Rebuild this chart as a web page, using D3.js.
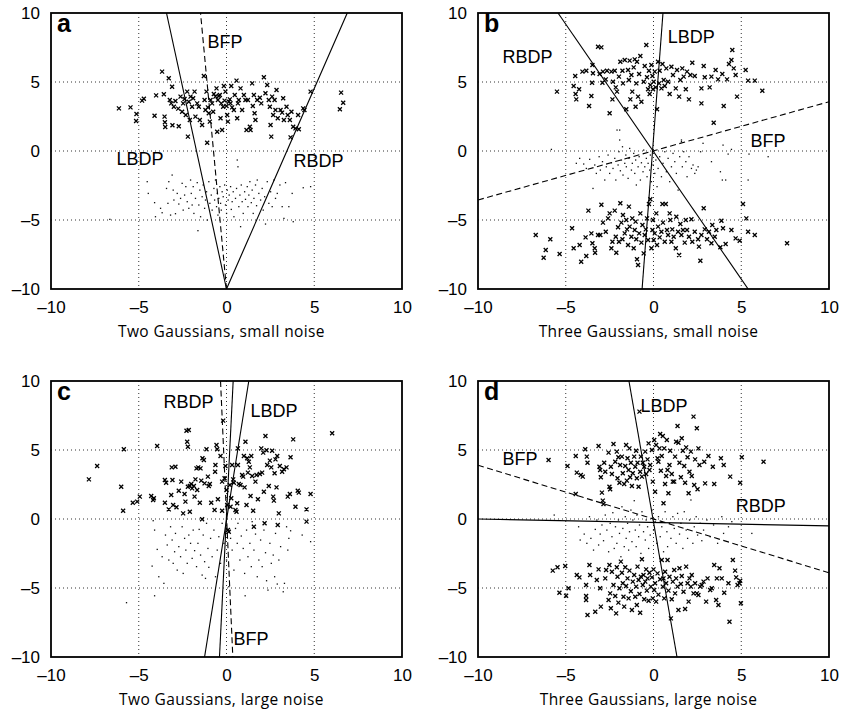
<!DOCTYPE html>
<html>
<head>
<meta charset="utf-8">
<script src="https://cdn.jsdelivr.net/npm/d3@7"></script>
<style>
  body { margin: 0; background: #fff; }
  svg { display: block; }
  .tick text { font-family: "Liberation Sans", Arial, sans-serif; font-size: 17px; fill: #000; }
  .xlabel { font-family: "Open Sans", Lato, sans-serif; font-size: 15.5px; letter-spacing: 0.4px; }
  .ann { font-family: "Liberation Sans", Arial, sans-serif; font-size: 18px; }
  .plabel { font-family: "Liberation Sans", Arial, sans-serif; font-size: 25px; font-weight: bold; }
</style>
</head>
<body>
<svg width="863" height="713"></svg>
<script>
const ticks = [-10, -5, 0, 5, 10];
const panelLetters = ["a", "b", "c", "d"];
const panelTitles = ["Two Gaussians, small noise", "Three Gaussians, small noise",
                     "Two Gaussians, large noise", "Three Gaussians, large noise"];

// panel a
const aCross = [[-6.13,3.09],[-5.47,3.16],[-5.13,2.68],[-5.15,2.17],[-4.81,3.65],[-4.71,3.79],[-4.10,2.56],[-4.01,4.03],[-3.67,5.75],[-3.57,4.11],[-3.53,2.49],[-3.51,2.08],[-3.49,1.74],[-3.29,5.27],[-3.23,3.70],[-3.10,4.66],[-3.15,3.45],[-3.08,1.86],[-2.91,3.62],[-3.00,3.21],[-2.75,3.07],[-2.72,1.79],[-2.62,3.94],[-2.53,2.85],[-2.47,3.45],[-2.39,3.77],[-2.32,2.61],[-2.24,4.30],[-2.20,1.04],[-2.15,3.57],[-2.09,2.25],[-2.05,3.94],[-1.96,3.21],[-1.90,3.82],[-1.82,4.30],[-1.77,2.49],[-1.67,3.45],[-1.58,3.21],[-1.52,2.25],[-1.39,1.88],[-1.29,5.43],[-1.25,3.70],[-1.20,2.97],[-1.14,4.30],[-1.10,0.60],[-1.06,3.16],[-1.01,2.73],[-0.95,2.13],[-0.91,3.70],[-0.82,3.45],[-0.76,2.85],[-0.72,4.13],[-0.63,3.94],[-0.57,4.54],[-0.53,1.40],[-0.49,3.70],[-0.44,3.99],[-0.38,4.06],[-0.34,2.37],[-0.30,3.45],[-0.25,1.52],[-0.19,3.21],[-0.15,4.71],[-0.11,3.65],[-0.06,4.30],[0,3.26],[0.04,2.61],[0.08,2.13],[0.13,3.57],[0.19,3.74],[0.23,3.45],[0.27,4.71],[0.32,3.16],[0.42,2.97],[0.47,4.06],[0.57,5.10],[0.61,2.37],[0.65,3.45],[0.70,3.70],[0.80,4.54],[0.89,2.97],[0.99,4.06],[1.08,3.70],[1.14,1.52],[1.22,3.70],[1.33,1.76],[1.37,1.52],[1.46,4.90],[1.50,3.26],[1.56,4.06],[1.60,2.73],[1.65,2.25],[1.75,3.70],[1.90,3.86],[1.98,3.45],[2.13,5.34],[2.22,4.18],[2.32,4.78],[2.41,3.70],[2.47,3.21],[2.51,1.88],[2.55,1.04],[2.60,3.94],[2.66,2.61],[2.74,3.70],[2.79,2.97],[2.85,4.42],[2.92,2.37],[3.08,2.97],[3.17,2.78],[3.23,3.82],[3.27,2.25],[3.42,3.21],[3.49,2.61],[3.61,2.25],[3.65,0.99],[3.70,2.85],[3.80,1.76],[3.93,1.64],[4.08,2.61],[4.12,1.57],[4.37,3.09],[4.44,2.97],[4.79,4.30],[6.46,3.02],[6.53,4.23],[6.65,3.50]];
const aDot = [[-6.65,-4.95],[-4.52,-2.22],[-4.46,-3.07],[-4.10,-3.74],[-4.05,-4.76],[-3.76,-4.15],[-3.67,-4.47],[-3.42,-2.71],[-3.34,-3.79],[-3.29,-2.22],[-3.19,-4.64],[-3.10,-1.74],[-3.04,-2.83],[-3.00,-3.55],[-2.91,-4.54],[-2.81,-3.07],[-2.72,-3.84],[-2.62,-3.43],[-2.53,-2.34],[-2.47,-4.28],[-2.39,-3.19],[-2.32,-2.58],[-2.24,-3.67],[-2.15,-4.15],[-2.05,-2.10],[-2.01,-3.07],[-1.96,-3.91],[-1.90,-2.58],[-1.86,-4.52],[-1.77,-3.43],[-1.67,-2.29],[-1.63,-5.77],[-1.58,-3.91],[-1.52,-2.83],[-1.48,-4.76],[-1.39,-3.31],[-1.33,-2.46],[-1.25,-4.15],[-1.20,-3.55],[-1.14,-2.95],[-1.10,-5.00],[-1.01,-2.22],[-0.95,-3.79],[-0.87,-3.19],[-0.82,-4.28],[-0.72,-2.71],[-0.68,-3.55],[-0.63,-2.10],[-0.57,-4.03],[-0.53,-3.07],[-0.49,-4.64],[-0.44,-3.43],[-0.38,-2.58],[-0.34,-3.79],[-0.30,-4.28],[-0.25,-2.95],[-0.19,-3.31],[-0.11,-2.46],[-0.06,-3.91],[0,-4.52],[0.04,-2.83],[0.09,-3.55],[0.15,-3.19],[0.23,-2.58],[0.27,-4.23],[0.32,-3.67],[0.38,-2.95],[0.42,-4.76],[0.51,-3.43],[0.57,-2.71],[0.61,-0.65],[0.65,-1.14],[0.70,-4.03],[0.76,-3.19],[0.80,-5.48],[0.84,-2.46],[0.89,-3.67],[0.95,-4.52],[1.03,-2.95],[1.08,-3.50],[1.18,-2.58],[1.22,-4.03],[1.27,-3.19],[1.33,-2.22],[1.41,-3.74],[1.46,-2.83],[1.52,-4.52],[1.56,-3.43],[1.65,-2.46],[1.71,-3.96],[1.75,-2.10],[1.84,-3.07],[1.94,-3.55],[2.03,-2.71],[2.09,-4.28],[2.17,-3.31],[2.22,-5.29],[2.32,-2.22],[2.41,-3.79],[2.51,-2.95],[2.60,-4.03],[2.70,-2.10],[2.79,-3.43],[2.89,-3.07],[3.04,-2.46],[3.17,-4.03],[3.27,-4.88],[3.36,-2.29],[3.55,-4.03],[3.74,-3.07],[3.80,-5.12],[4.37,-2.66],[4.79,-2.58]];

// panel b
const bCrossTop = [[-5.50,4.30],[-4.46,5.43],[-4.44,4.13],[-4.55,4.71],[-4.40,3.74],[-4.24,4.47],[-4.05,5.75],[-3.83,5.82],[-3.67,3.26],[-3.54,3.99],[-3.48,6.23],[-3.45,5.63],[-3.50,4.95],[-3.16,7.56],[-3.07,5.58],[-2.97,7.51],[-2.91,4.95],[-2.88,5.75],[-2.72,5.19],[-2.65,5.82],[-2.50,2.73],[-2.40,5.75],[-2.34,3.74],[-2.31,5.02],[-2.21,5.82],[-2.15,4.61],[-2.08,4.30],[-1.97,5.39],[-1.89,6.47],[-1.77,5.82],[-1.74,4.90],[-1.64,6.59],[-1.55,3.02],[-1.45,5.87],[-1.40,5.14],[-1.36,6.55],[-1.32,3.74],[-1.26,5.51],[-1.21,4.30],[-1.13,6.06],[-1.07,6.64],[-1.02,3.21],[-0.98,4.90],[-0.94,6.47],[-0.88,3.94],[-0.82,5.58],[-0.75,6.88],[-0.69,3.57],[-0.56,5.02],[-0.50,6.16],[-0.41,7.68],[-0.37,5.34],[-0.31,4.47],[-0.26,5.82],[-0.22,4.13],[-0.18,4.78],[-0.12,6.23],[-0.06,5.43],[-0.03,4.47],[0.01,5.02],[0.07,5.75],[0.13,4.61],[0.20,3.02],[0.26,6.47],[0.32,4.90],[0.35,5.82],[0.45,4.54],[0.51,6.30],[0.58,5.14],[0.64,4.71],[0.73,5.99],[0.83,5.02],[0.92,4.13],[1.02,6.11],[1.11,5.51],[1.27,4.54],[1.34,5.87],[1.46,3.94],[1.53,5.14],[1.64,5.99],[1.72,5.39],[1.84,4.47],[1.91,5.75],[2.02,3.74],[2.10,5.51],[2.21,6.40],[2.35,5.43],[2.73,4.54],[2.73,3.45],[2.86,6.16],[2.92,5.34],[3.20,4.61],[3.30,5.39],[3.43,2.05],[3.54,5.87],[3.68,5.19],[3.92,5.58],[4.00,3.26],[4.19,5.19],[4.30,6.30],[4.44,6.59],[4.49,7.32],[4.57,5.99],[4.68,5.51],[4.76,3.94],[5.25,5.87],[5.39,5.10],[5.77,5.10],[6.20,4.37]];
const bDot = [[-5.82,0.12],[-4.40,-0.89],[-4.21,-0.53],[-3.98,-0.94],[-3.83,-1.26],[-3.64,-0.60],[-3.45,-2.71],[-3.35,-1.01],[-3.26,-1.62],[-3.10,-0.41],[-3.03,-1.38],[-2.91,-0.77],[-2.78,-2.10],[-2.69,-1.14],[-2.59,-0.29],[-2.50,-1.62],[-2.40,-0.85],[-2.31,-1.26],[-2.21,-0.53],[-2.15,-2.10],[-2.08,1.52],[-2.02,-1.01],[-1.97,-0.05],[-1.93,0.80],[-1.89,-1.43],[-1.83,-0.65],[-1.77,0.31],[-1.74,-1.74],[-1.64,-0.89],[-1.58,-0.29],[-1.55,-1.14],[-1.45,-1.98],[-1.40,-0.53],[-1.36,0.19],[-1.26,-1.38],[-1.21,-0.89],[-1.13,-0.17],[-1.07,-1.62],[-1.02,-0.65],[-0.98,-2.46],[-0.88,-1.14],[-0.82,-0.41],[-0.75,-2.10],[-0.69,-0.85],[-0.60,-1.50],[-0.56,0.07],[-0.50,-1.14],[-0.41,-0.53],[-0.37,-1.86],[-0.31,-0.89],[-0.22,-1.38],[-0.18,-0.29],[-0.12,-2.22],[-0.03,-1.01],[0.07,-1.62],[0.13,-0.65],[0.20,-2.58],[0.26,-1.26],[0.35,-0.41],[0.45,-1.86],[0.54,-0.89],[0.64,-0.05],[0.73,-1.50],[0.83,-0.53],[0.92,-2.22],[1.02,-1.14],[1.11,-0.17],[1.21,-0.77],[1.30,-1.62],[1.40,-2.83],[1.49,-0.41],[1.59,0.80],[1.64,-1.14],[1.72,-0.05],[1.84,-0.77],[1.91,-1.86],[2.02,-0.41],[2.16,-1.26],[2.25,-1.01],[2.35,-1.62],[2.44,-1.38],[2.54,-1.14],[2.68,-0.05],[2.82,0.56],[3.30,-0.77],[3.81,-1.50],[3.92,-2.10],[3.96,0.43],[4.11,-2.10],[4.25,-0.22],[4.44,0.12],[5.39,-2.10],[5.44,-0.22],[6.53,-0.41],[-1.93,1.52],[1.59,0.68]];
const bCrossBottom = [[-6.71,-6.09],[-6.26,-7.73],[-6.14,-7.17],[-5.88,-6.40],[-5.35,-7.46],[-4.64,-5.60],[-4.55,-7.05],[-4.21,-6.81],[-4.12,-8.02],[-3.87,-6.26],[-3.83,-7.61],[-3.71,-4.32],[-3.54,-5.97],[-3.48,-6.69],[-3.35,-7.05],[-3.33,-7.37],[-3.16,-6.09],[-2.97,-3.89],[-3.03,-6.09],[-2.88,-5.19],[-2.72,-5.85],[-2.59,-4.88],[-2.50,-4.52],[-2.40,-7.05],[-2.34,-6.57],[-2.21,-4.32],[-2.15,-6.21],[-2.12,-7.37],[-2.02,-5.53],[-1.97,-6.57],[-1.89,-3.79],[-1.83,-5.19],[-1.77,-6.40],[-1.74,-4.64],[-1.64,-5.97],[-1.55,-5.00],[-1.51,-5.68],[-1.45,-6.81],[-1.40,-4.03],[-1.36,-5.48],[-1.26,-6.21],[-1.21,-4.88],[-1.13,-7.05],[-1.07,-5.72],[-1.02,-5.12],[-0.98,-6.40],[-0.94,-7.85],[-0.88,-8.26],[-0.82,-5.97],[-0.75,-4.52],[-0.69,-6.64],[-0.63,-5.36],[-0.56,-7.42],[-0.50,-6.09],[-0.44,-5.68],[-0.37,-4.88],[-0.31,-6.45],[-0.26,-3.84],[-0.18,-3.50],[-0.12,-7.05],[-0.06,-5.72],[-0.03,-5.00],[0.01,-6.45],[0.07,-5.97],[0.16,-4.52],[0.20,-6.81],[0.26,-5.48],[0.35,-6.26],[0.45,-5.85],[0.51,-3.84],[0.54,-5.19],[0.64,-6.57],[0.70,-3.84],[0.77,-5.72],[0.83,-6.09],[0.92,-4.52],[0.96,-5.00],[1.02,-6.57],[1.07,-5.68],[1.15,-6.21],[1.27,-7.05],[1.30,-4.76],[1.40,-5.85],[1.46,-7.54],[1.53,-5.29],[1.59,-6.09],[1.68,-5.72],[1.78,-6.64],[1.84,-5.00],[1.91,-5.72],[2.02,-6.21],[2.16,-4.95],[2.21,-6.57],[2.35,-5.85],[2.54,-6.40],[2.59,-6.93],[2.67,-7.95],[2.73,-6.09],[2.86,-4.15],[2.92,-5.68],[3.05,-6.40],[3.16,-5.85],[3.30,-6.69],[3.35,-5.36],[3.49,-6.21],[3.58,-5.72],[3.81,-6.98],[3.87,-5.05],[3.96,-5.60],[4.11,-6.74],[4.44,-5.72],[4.68,-6.33],[4.91,-6.50],[5.10,-3.84],[5.29,-4.88],[5.39,-5.85],[5.77,-6.09],[7.61,-6.69]];

// panel c
const cCross = [[-7.84,2.87],[-7.37,3.84],[-6.00,2.34],[-5.89,0.60],[-5.85,5.05],[-5.34,1.18],[-5.09,1.26],[-4.94,1.62],[-4.29,1.67],[-4.18,1.38],[-4.14,1.50],[-3.95,5.29],[-3.51,1.18],[-3.51,2.83],[-3.44,2.63],[-3.29,0.70],[-3.15,1.74],[-3.12,3.74],[-3.08,2.83],[-3.04,1.01],[-2.91,3.79],[-2.85,0.85],[-2.72,2.05],[-2.58,2.71],[-2.47,0.41],[-2.39,1.81],[-2.34,1.26],[-2.28,6.40],[-2.15,6.45],[-2.24,5.60],[-2.20,5.24],[-2.20,2.34],[-2.09,0.53],[-2.09,2.39],[-2.01,2.54],[-1.96,2.22],[-1.86,2.39],[-1.82,1.62],[-1.77,2.87],[-1.71,3.67],[-1.67,2.10],[-1.61,3.74],[-1.52,1.18],[-1.48,3.67],[-1.44,2.78],[-1.39,-0.02],[-1.37,4.40],[-1.29,4.28],[-1.25,2.58],[-1.14,5.05],[-1.06,3.07],[-1.01,2.39],[-0.95,2.54],[-0.87,1.18],[-0.68,0.65],[-0.65,3.43],[-0.63,3.91],[-0.57,5.36],[-0.53,5.05],[-0.49,1.43],[-0.34,4.57],[-0.25,0.60],[-0.25,2.71],[-0.19,7.13],[-0.11,2.95],[-0.06,3.84],[0,2.10],[0.04,1.01],[0.08,-0.80],[0.13,-0.92],[0.19,2.46],[0.23,0.89],[0.27,1.50],[0.32,3.91],[0.38,2.87],[0.42,2.63],[0.51,0.65],[0.57,0.53],[0.61,1.14],[0.65,5.12],[0.65,3.91],[0.70,2.54],[0.80,2.46],[0.89,3.19],[0.95,3.07],[0.99,4.57],[1.03,2.29],[1.08,5.60],[1.14,1.01],[1.18,4.40],[1.22,3.36],[1.27,4.15],[1.33,3.74],[1.37,1.67],[1.41,4.57],[1.46,3.12],[1.52,0.60],[1.56,-0.56],[1.65,2.71],[1.71,3.19],[1.79,1.43],[1.90,3.26],[1.98,5.12],[2.03,3.36],[2.09,4.81],[2.13,1.98],[2.17,-0.31],[2.22,6.01],[2.28,4.98],[2.32,3.91],[2.41,2.39],[2.47,4.23],[2.55,3.74],[2.60,4.95],[2.66,1.62],[2.70,1.33],[2.74,3.31],[2.79,4.32],[2.85,2.29],[2.89,4.57],[2.92,-0.43],[2.98,0.41],[3.04,3.84],[3.17,3.43],[3.27,3.60],[3.42,3.74],[3.49,1.62],[3.61,1.81],[3.65,4.47],[3.80,5.77],[3.93,0.89],[4.06,2.05],[4.12,1.91],[4.56,0.70],[4.56,-0.19],[4.79,1.81],[6.02,6.21]];
const cDot = [[-5.70,-6.06],[-4.18,-0.12],[-4.10,-0.80],[-4.10,-5.56],[-4.24,-3.41],[-3.95,-2.20],[-3.86,-4.18],[-3.67,-2.73],[-3.57,-4.66],[-3.48,-1.16],[-3.38,-1.88],[-3.29,-2.97],[-3.19,-0.56],[-3.10,-1.52],[-3.04,-3.21],[-2.96,-2.37],[-2.91,-1.04],[-2.81,-3.70],[-2.72,-2.00],[-2.62,-2.73],[-2.53,-0.56],[-2.47,-3.94],[-2.39,-1.40],[-2.32,-2.25],[-2.24,-3.21],[-2.15,-1.16],[-2.05,-1.76],[-1.96,-2.85],[-1.90,-0.80],[-1.82,-2.29],[-1.71,-3.45],[-1.63,-1.76],[-1.56,-0.75],[-1.48,-2.61],[-1.39,-4.06],[-1.33,-1.16],[-1.25,-3.09],[-1.20,-4.30],[-1.14,-0.31],[-1.06,-2.13],[-1.01,-3.50],[-0.91,-1.40],[-0.82,-2.73],[-0.72,-0.80],[-0.63,-4.18],[-0.53,-2.25],[-0.44,-1.28],[-0.34,-3.21],[-0.25,-0.31],[-0.15,-1.76],[0,-2.97],[0.13,-4.90],[0.23,-1.40],[0.32,-2.25],[0.42,-3.70],[0.51,-0.68],[0.61,-1.76],[0.65,-0.31],[0.76,-2.97],[0.84,-1.23],[0.95,-2.13],[1.03,-3.94],[1.06,-5.56],[1.14,-0.80],[1.22,-2.73],[1.33,-1.76],[1.41,-3.45],[1.46,-0.19],[1.56,-2.25],[1.65,-1.09],[1.75,-4.18],[1.84,-2.97],[1.94,-1.52],[2.03,-3.45],[2.13,-0.80],[2.22,-2.44],[2.28,-4.47],[2.36,-5.15],[2.47,-1.76],[2.55,-3.21],[2.66,-2.61],[2.74,-4.18],[2.79,-1.04],[2.89,-4.71],[2.98,-2.97],[3.08,-2.00],[3.23,-5.27],[3.30,-4.66],[3.42,-0.56],[3.49,-2.25],[3.55,-1.40],[3.65,-0.85],[4.31,-1.16],[4.79,-1.64]];

// panel d
const dCrossTop = [[-5.98,4.28],[-4.90,3.84],[-4.43,4.57],[-4.37,3.36],[-4.43,1.81],[-4.14,3.19],[-4.03,3.07],[-3.89,5.05],[-3.80,4.52],[-3.76,4.08],[-3.13,5.29],[-3.08,3.79],[-3.04,3.55],[-3.00,3.02],[-2.94,1.91],[-2.89,1.33],[-2.85,1.09],[-2.81,4.08],[-2.75,3.43],[-2.56,4.81],[-2.51,2.34],[-2.47,2.15],[-2.43,3.79],[-2.37,3.26],[-2.28,5.43],[-2.18,4.15],[-2.09,4.88],[-2.05,2.95],[-2.00,4.47],[-1.94,2.63],[-1.90,3.91],[-1.80,4.52],[-1.75,3.31],[-1.67,2.54],[-1.61,3.84],[-1.56,5.36],[-1.52,2.78],[-1.48,4.40],[-1.42,3.55],[-1.37,5.12],[-1.33,3.02],[-1.29,4.08],[-1.23,2.39],[-1.18,3.31],[-1.10,4.52],[-1.04,3.79],[-0.99,4.95],[-0.95,2.95],[-0.91,4.08],[-0.85,2.34],[-0.80,7.78],[-0.76,3.43],[-0.72,4.52],[-0.66,3.07],[-0.61,4.08],[-0.53,3.79],[-0.47,4.88],[-0.42,3.26],[-0.34,4.32],[-0.28,5.48],[-0.23,3.55],[-0.19,3.91],[-0.09,5.00],[-0.04,2.71],[0.04,5.72],[0.09,1.98],[0.15,5.36],[0.23,4.40],[0.28,4.15],[0.34,5.12],[0.38,6.16],[0.42,3.50],[0.47,4.57],[0.53,6.01],[0.57,1.14],[0.61,5.12],[0.66,2.54],[0.72,3.12],[0.76,5.72],[0.80,3.55],[0.85,1.86],[0.91,3.91],[0.95,4.95],[1.04,3.26],[1.10,2.71],[1.18,2.71],[1.23,4.52],[1.29,5.60],[1.37,6.74],[1.42,5.53],[1.48,4.08],[1.56,3.02],[1.61,5.85],[1.67,4.95],[1.75,3.84],[1.80,2.63],[1.86,5.19],[1.94,4.47],[2.00,1.86],[2.05,3.43],[2.13,4.88],[2.18,3.12],[2.28,7.42],[2.32,2.46],[2.37,4.32],[2.47,6.57],[2.51,2.15],[2.56,5.12],[2.62,3.91],[2.89,4.15],[2.94,2.58],[3.13,4.57],[3.38,3.79],[3.46,2.54],[3.84,4.40],[4.00,3.91],[4.37,3.07],[4.94,2.63],[5.03,4.47],[6.27,4.15]];
const dDot = [[-5.66,0.29],[-4.27,-0.56],[-4.18,-1.52],[-3.95,-1.09],[-3.80,-1.76],[-3.65,0.17],[-3.57,-1.40],[-3.42,-2.25],[-3.32,-0.75],[-3.23,-0.07],[-3.13,-1.88],[-3.04,-1.09],[-2.94,-0.43],[-2.85,-1.57],[-2.75,0.29],[-2.66,-0.80],[-2.56,-2.37],[-2.47,-0.31],[-2.37,-1.28],[-2.32,0.46],[-2.24,-2.13],[-2.17,-0.56],[-2.09,-1.76],[-2.00,-0.07],[-1.94,-1.04],[-1.86,-2.73],[-1.80,0.89],[-1.75,-0.68],[-1.67,-2.00],[-1.61,0.17],[-1.56,-1.40],[-1.48,-0.31],[-1.42,-2.25],[-1.37,-0.92],[-1.29,0.65],[-1.23,-1.64],[-1.18,-0.07],[-1.10,1.33],[-1.04,-0.80],[-0.99,-2.00],[-0.95,0.29],[-0.85,-1.28],[-0.80,-0.43],[-0.72,-2.49],[-0.66,0.53],[-0.57,-0.92],[-0.47,-1.52],[-0.42,-0.07],[-0.34,-0.56],[-0.28,-2.13],[-0.19,-1.16],[-0.09,0.65],[0,-0.80],[0.09,-0.19],[0.19,-1.76],[0.28,0.17],[0.38,-1.28],[0.47,-0.56],[0.57,-2.37],[0.66,0.53],[0.76,-0.92],[0.80,-2.00],[0.91,-0.31],[0.99,-1.40],[1.10,0.17],[1.18,-0.68],[1.29,-1.76],[1.37,0.41],[1.48,-1.09],[1.56,-0.31],[1.67,-2.13],[1.75,0.53],[1.86,-0.80],[1.94,-1.40],[2.05,-0.07],[2.13,1.38],[2.24,-1.76],[2.32,-0.56],[2.43,0.17],[2.51,-1.16],[2.66,-0.31],[2.75,-1.57],[2.85,-0.80],[3.04,-0.07],[3.23,-1.28],[3.42,-0.43],[3.65,-1.76],[3.89,0.17],[3.99,-1.04],[4.27,-0.56],[4.46,-0.19],[5.60,-1.04]];
const dCrossBottom = [[-5.74,-3.74],[-5.47,-3.50],[-5.36,-5.34],[-5.03,-3.41],[-4.98,-5.56],[-4.84,-5.02],[-4.37,-4.06],[-4.22,-4.23],[-3.84,-4.78],[-3.84,-5.58],[-3.84,-5.87],[-3.76,-6.96],[-3.65,-3.33],[-3.61,-4.06],[-3.32,-6.72],[-3.23,-4.42],[-3.13,-3.65],[-3.04,-5.02],[-3.00,-6.35],[-2.75,-4.30],[-2.70,-3.70],[-2.56,-5.87],[-2.51,-3.33],[-2.47,-5.39],[-2.43,-6.47],[-2.37,-3.82],[-2.28,-4.78],[-2.18,-5.58],[-2.13,-6.84],[-2.09,-3.50],[-2.05,-4.18],[-2.00,-6.06],[-1.94,-5.02],[-1.86,-3.09],[-1.80,-3.89],[-1.75,-4.66],[-1.71,-5.63],[-1.67,-6.35],[-1.61,-3.50],[-1.56,-4.86],[-1.48,-4.30],[-1.42,-5.75],[-1.37,-3.74],[-1.29,-5.24],[-1.23,-6.59],[-1.18,-4.54],[-1.10,-4.06],[-1.04,-5.63],[-0.99,-4.90],[-0.95,-6.23],[-0.91,-3.45],[-0.85,-4.42],[-0.80,-5.43],[-0.76,-6.79],[-0.72,-4.18],[-0.66,-2.92],[-0.61,-4.78],[-0.57,-4.06],[-0.53,-5.82],[-0.47,-4.54],[-0.42,-3.65],[-0.38,-5.19],[-0.34,-4.30],[-0.28,-5.92],[-0.23,-3.89],[-0.15,-4.90],[-0.09,-4.23],[-0.04,-5.75],[0,-3.65],[0.04,-5.14],[0.09,-4.66],[0.15,-5.99],[0.23,-3.94],[0.28,-5.48],[0.38,-4.37],[0.47,-2.97],[0.53,-4.90],[0.57,-4.30],[0.61,-5.75],[0.66,-3.82],[0.72,-4.66],[0.80,-2.97],[0.85,-5.19],[0.91,-4.18],[0.99,-7.20],[1.04,-5.82],[1.10,-4.54],[1.18,-3.70],[1.23,-5.39],[1.29,-4.30],[1.37,-4.90],[1.42,-6.59],[1.48,-3.57],[1.56,-4.71],[1.61,-4.13],[1.71,-5.27],[1.80,-6.52],[1.86,-3.45],[1.94,-4.66],[2.00,-5.99],[2.05,-4.30],[2.13,-4.90],[2.18,-4.06],[2.28,-5.39],[2.37,-4.66],[2.47,-5.39],[2.56,-5.51],[2.66,-4.90],[2.75,-4.78],[2.85,-4.54],[3.00,-5.99],[3.08,-4.30],[3.23,-5.14],[3.32,-5.02],[3.46,-3.33],[3.57,-5.87],[3.61,-4.30],[3.70,-6.23],[3.76,-3.57],[3.89,-4.30],[4.03,-5.34],[4.27,-4.66],[4.33,-7.44],[4.52,-2.97],[4.65,-3.74],[4.71,-4.23],[4.79,-4.78],[4.90,-4.66],[4.94,-4.47],[4.98,-6.11]];

// separating / projection lines: [x1, y1, x2, y2]
const aLines = [[0,-10,-3.42,10],[0,-10,6.88,10]];
const aDashed = [[0,-10,-1.48,10]];
const bLines = [[-5.44,10,5.39,-10],[0.54,10,-0.65,-10]];
const bDashed = [[-10,-3.55,10,3.57]];
const cLines = [[1.27,10,-1.25,-10],[0.38,10,-0.40,-10]];
const cDashed = [[-0.34,10,0.36,-10]];
const dLines = [[-1.40,10,1.34,-10],[-10,0,10,-0.5]];
const dDashed = [[-10,3.9,10,-3.9]];

// line labels: [text, x, y] in data units (left / baseline)
const aNotes = [["BFP",-1.08,7.46],["LBDP",-6.27,-1.01],["RBDP",3.82,-1.16]];
const bNotes = [["RBDP",-8.61,6.38],["LBDP",0.81,7.83],["BFP",5.52,0.29]];
const cNotes = [["RBDP",-3.59,8.06],["LBDP",1.37,7.41],["BFP",0.40,-9.12]];
const dNotes = [["LBDP",-0.74,7.75],["BFP",-8.60,3.91],["RBDP",4.69,0.51]];

const panels = [
  {left: 51, top: 13, cross: [aCross], dot: aDot, lines: aLines, dashed: aDashed, notes: aNotes},
  {left: 478, top: 13, cross: [bCrossTop, bCrossBottom], dot: bDot, lines: bLines, dashed: bDashed, notes: bNotes},
  {left: 51, top: 381, cross: [cCross], dot: cDot, lines: cLines, dashed: cDashed, notes: cNotes},
  {left: 478, top: 381, cross: [dCrossTop, dCrossBottom], dot: dDot, lines: dLines, dashed: dDashed, notes: dNotes}
];

const W = 351, H = 276;
const svg = d3.select("svg");

const x = d3.scaleLinear().domain([-10, 10]).range([0, W]);
const y = d3.scaleLinear().domain([-10, 10]).range([H, 0]);
const fmt = d => (d < 0 ? "\u2013" + Math.abs(d) : String(d));

panels.forEach((p, i) => {
  const g = svg.append("g").attr("transform", `translate(${p.left},${p.top})`);

  g.append("clipPath").attr("id", "clip" + i)
    .append("rect").attr("width", W).attr("height", H);

  // dotted grid
  const grid = g.append("g");
  grid.selectAll(".gx").data(ticks.slice(1, -1)).enter().append("line")
      .attr("x1", d => x(d)).attr("x2", d => x(d)).attr("y1", 0).attr("y2", H);
  grid.selectAll(".gy").data(ticks.slice(1, -1)).enter().append("line")
      .attr("y1", d => y(d)).attr("y2", d => y(d)).attr("x1", 0).attr("x2", W);
  grid.selectAll("line")
      .attr("stroke", "#333").attr("stroke-width", 1).attr("stroke-dasharray", "1,3");

  const body = g.append("g").attr("clip-path", `url(#clip${i})`);

  body.selectAll(".dot").data(p.dot).enter().append("rect")
      .attr("x", d => x(d[0]) - 0.6).attr("y", d => y(d[1]) - 0.6)
      .attr("width", 1.3).attr("height", 1.3).attr("fill", "#111");

  p.cross.forEach(set => {
    body.append("g").selectAll("path").data(set).enter().append("path")
        .attr("d", d => {
          const cx = x(d[0]), cy = y(d[1]);
          return `M${cx-2},${cy-2}L${cx+2},${cy+2}M${cx-2},${cy+2}L${cx+2},${cy-2}`;
        })
        .attr("stroke", "#000").attr("stroke-width", 1.3).attr("fill", "none");
  });

  body.selectAll(".ln").data(p.lines).enter().append("line")
      .attr("x1", d => x(d[0])).attr("y1", d => y(d[1]))
      .attr("x2", d => x(d[2])).attr("y2", d => y(d[3]))
      .attr("stroke", "#000").attr("stroke-width", 1.1);
  body.selectAll(".dl").data(p.dashed).enter().append("line")
      .attr("x1", d => x(d[0])).attr("y1", d => y(d[1]))
      .attr("x2", d => x(d[2])).attr("y2", d => y(d[3]))
      .attr("stroke", "#000").attr("stroke-width", 1.1).attr("stroke-dasharray", "6,3.5");

  g.selectAll(".ann").data(p.notes).enter().append("text")
      .attr("class", "ann")
      .attr("x", d => x(d[1])).attr("y", d => y(d[2]))
      .text(d => d[0]);

  // axes
  g.append("g").attr("transform", `translate(0,${H})`)
      .call(d3.axisBottom(x).tickValues(ticks).tickFormat(fmt).tickSize(0).tickPadding(12))
      .call(a => a.select(".domain").remove());
  g.append("g")
      .call(d3.axisLeft(y).tickValues(ticks).tickFormat(fmt).tickSize(0).tickPadding(11))
      .call(a => a.select(".domain").remove());

  g.append("rect").attr("width", W).attr("height", H)
      .attr("fill", "none").attr("stroke", "#000").attr("stroke-width", 1.8);

  g.append("text").attr("class", "plabel")
      .attr("x", 6).attr("y", 19)
      .text(panelLetters[i]);

  g.append("text").attr("class", "xlabel")
      .attr("x", W / 2 - 5).attr("y", H + 48)
      .attr("text-anchor", "middle")
      .text(panelTitles[i]);
});
</script>
</body>
</html>
